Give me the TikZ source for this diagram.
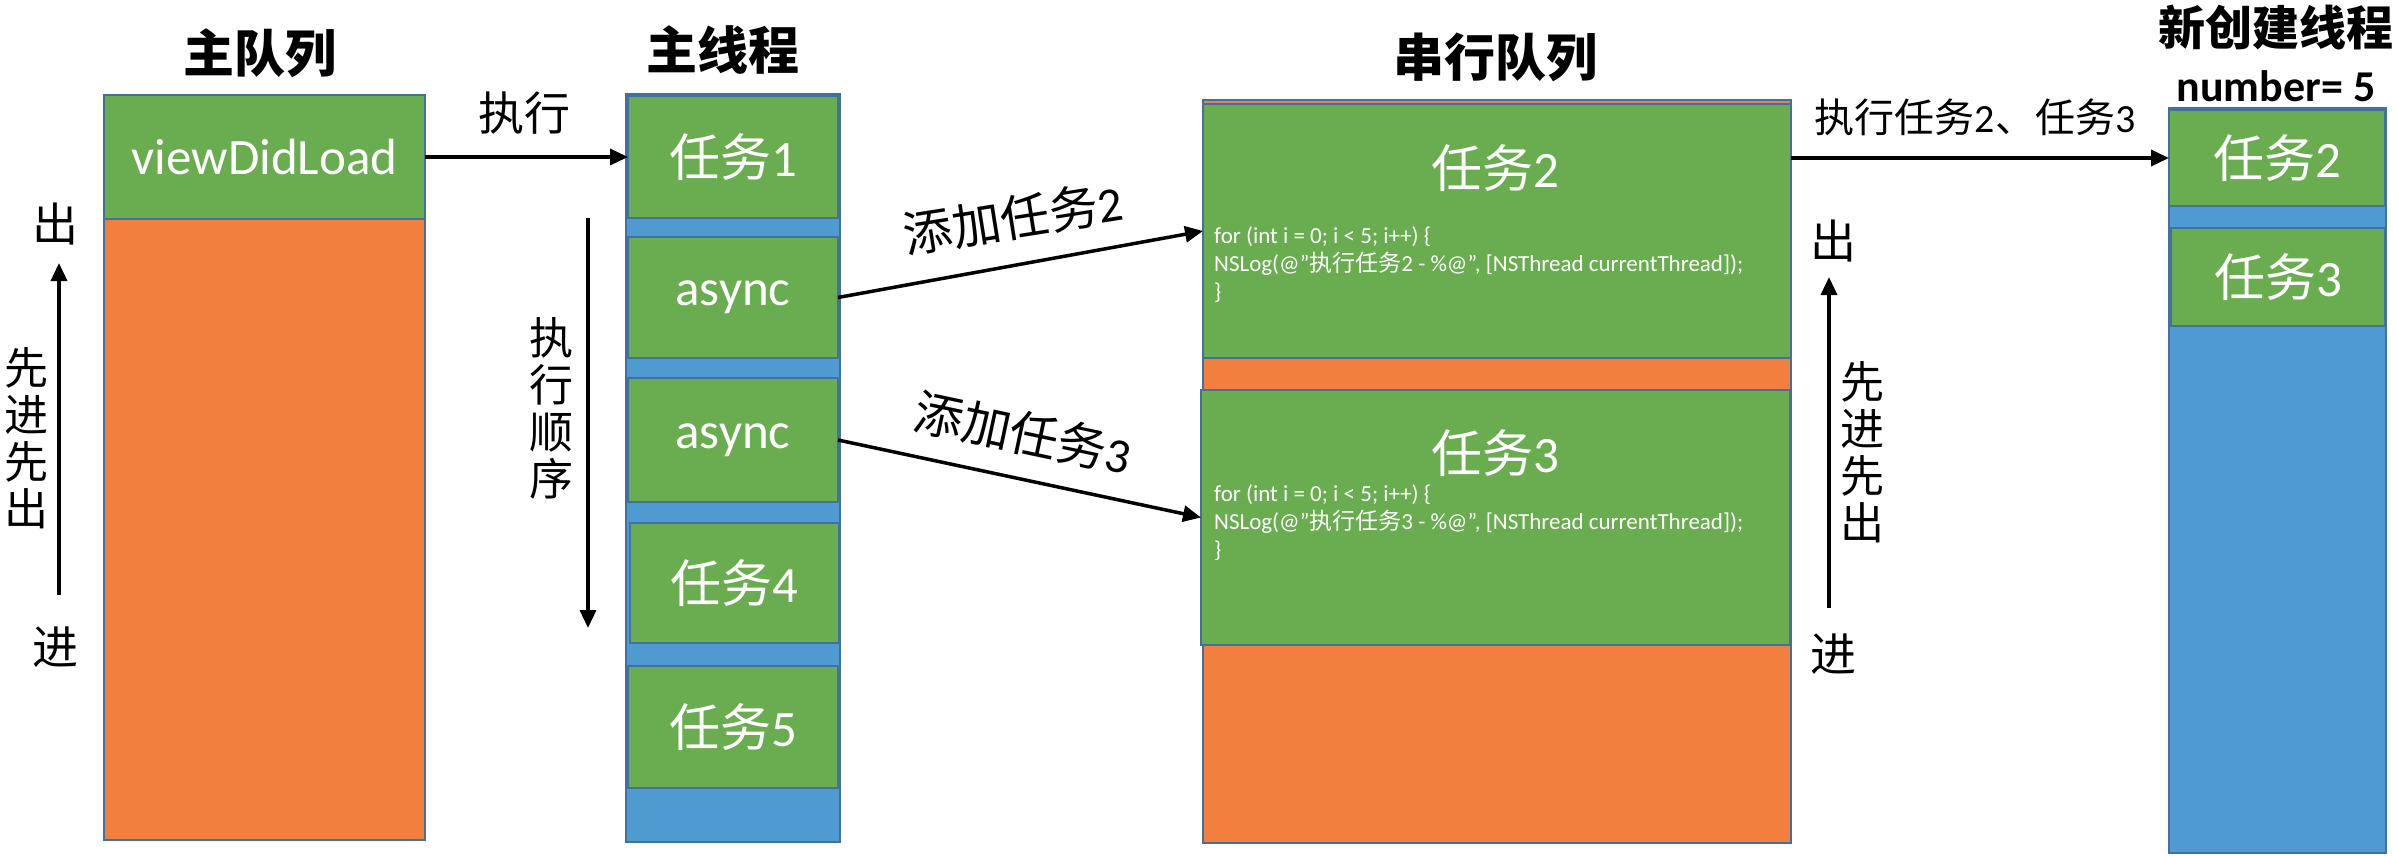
\documentclass[tikz,border=0pt]{standalone}
\usepackage{fontspec}
\setmainfont{Carlito}
\newfontfamily\cjk{Noto Sans CJK SC}
\usetikzlibrary{arrows.meta}
\definecolor{boxgreen}{RGB}{106,173,80}
\definecolor{boxorange}{RGB}{243,127,63}
\definecolor{boxblue}{RGB}{80,154,210}
\definecolor{edgeblue}{RGB}{65,113,156}

\begin{document}
\begin{tikzpicture}[x=1pt,y=-1pt,
  block/.style={draw=edgeblue, line width=2.5pt, inner sep=0pt, outer sep=0pt},
  greenbox/.style={block, fill=boxgreen, text=white, font=\fontsize{51}{56}\selectfont},
  orangebox/.style={block, fill=boxorange},
  bluebox/.style={block, fill=boxblue},
  title/.style={font=\cjk\bfseries\fontsize{51}{56}\selectfont, inner sep=0pt},
  lbl/.style={font=\cjk\fontsize{46}{50}\selectfont, inner sep=0pt},
  vlbl/.style={font=\cjk\fontsize{44}{47}\selectfont, inner sep=0pt, align=center},
  tasklbl/.style={text=white, font=\fontsize{51}{56}\selectfont, inner sep=0pt},
  code/.style={text=white, font=\fontsize{23}{28}\selectfont, inner sep=0pt, align=left, anchor=west},
  arr/.style={line width=3.5pt, -{Triangle[length=18pt,width=16pt]}}]
\useasboundingbox (0,0) rectangle (2398,856);

% ---- main queue ----
\node[orangebox, minimum width=321pt, minimum height=745pt] (mq) at (264.5,467.5) {};
\node[greenbox, minimum width=321pt, minimum height=124pt] (vdl) at (264.5,157) {viewDidLoad};
\node[title] (tmq) at (260,53) {主队列};

% ---- main thread ----
\node[bluebox, minimum width=214pt, minimum height=748pt] (mt) at (733,468) {};
\node[greenbox, minimum width=210pt, minimum height=122pt] (t1) at (733,157) {{\cjk 任务}1};
\node[greenbox, minimum width=210pt, minimum height=121pt] (as1) at (733,297.5) {async};
\node[greenbox, minimum width=210pt, minimum height=124pt] (as2) at (733,440) {async};
\node[greenbox, minimum width=209pt, minimum height=120pt] (t4) at (734.5,583) {{\cjk 任务}4};
\node[greenbox, minimum width=210pt, minimum height=122pt] (t5) at (733,727) {{\cjk 任务}5};
\node[title] (tmt) at (723,50) {主线程};

% ---- serial queue ----
\node[orangebox, minimum width=588pt, minimum height=743pt] (sq) at (1497,471.5) {};
\node[block, fill=boxgreen, minimum width=588pt, minimum height=254pt] (sq2) at (1497,231) {};
\node[block, fill=boxgreen, minimum width=589pt, minimum height=255pt] (sq3) at (1495.5,517.5) {};
\node[title] (tsq) at (1495,57) {串行队列};
\node[tasklbl] (sq2t) at (1495,168) {{\cjk 任务}2};
\node[code] (sq2c) at (1214,265) {for (int i = 0; i < 5; i++) \{\\
NSLog(@"{\cjk 执行任务}2 - \%@", [NSThread currentThread]);\\
\}};
\node[tasklbl] (sq3t) at (1495,453) {{\cjk 任务}3};
\node[code] (sq3c) at (1214,523) {for (int i = 0; i < 5; i++) \{\\
NSLog(@"{\cjk 执行任务}3 - \%@", [NSThread currentThread]);\\
\}};

% ---- new thread ----
\node[bluebox, minimum width=217pt, minimum height=745pt] (nt) at (2277.5,480.5) {};
\node[greenbox, minimum width=216pt, minimum height=96pt] (nt2) at (2277,158) {{\cjk 任务}2};
\node[greenbox, minimum width=214pt, minimum height=98pt] (nt3) at (2278,277) {{\cjk 任务}3};
\node[title, font=\cjk\bfseries\fontsize{47}{52}\selectfont] (tnt) at (2276,28) {新创建线程};
\node[inner sep=0pt, font=\bfseries\fontsize{44}{50}\selectfont] (num) at (2276,86) {number= 5};

% ---- side labels ----
\node[lbl] (lout) at (55,224) {出};
\node[lbl] (lin) at (55,647) {进};
\node[vlbl] (lfifo) at (27,438) {先\\进\\先\\出};
\node[vlbl] (order) at (551,408) {执\\行\\顺\\序};
\node[lbl] (rout) at (1833,241) {出};
\node[lbl] (rin) at (1833,654) {进};
\node[vlbl] (rfifo) at (1862,452) {先\\进\\先\\出};

% ---- connectors ----
\draw[arr] (vdl.east) -- (t1.west);
\node[lbl] (exec) at (524,113) {执行};

\draw[arr] (as1.east) -- (sq2.west);
\node[lbl, font=\cjk\fontsize{49}{54}\selectfont, rotate=9] (add2) at (1013,218) {添加任务{\rmfamily 2}};
\draw[arr] (as2.east) -- (sq3.west);
\node[lbl, font=\cjk\fontsize{49}{54}\selectfont, rotate=-12] (add3) at (1023,433) {添加任务{\rmfamily 3}};

\draw[arr] (sq2.east |- nt2.west) -- (nt2.west);
\node[lbl, font=\cjk\fontsize{40}{46}\selectfont] (exec23) at (1975,117) {执行任务{\rmfamily 2}、任务{\rmfamily 3}};

\coordinate (lbot) at (59,595);
\coordinate (ltop) at (59,263);
\draw[arr] (lbot) -- (ltop);
\coordinate (dtop) at (588,218);
\coordinate (dbot) at (588,628);
\draw[arr] (dtop) -- (dbot);
\coordinate (rbot) at (1829,608);
\coordinate (rtop) at (1829,277);
\draw[arr] (rbot) -- (rtop);
\end{tikzpicture}
\end{document}
